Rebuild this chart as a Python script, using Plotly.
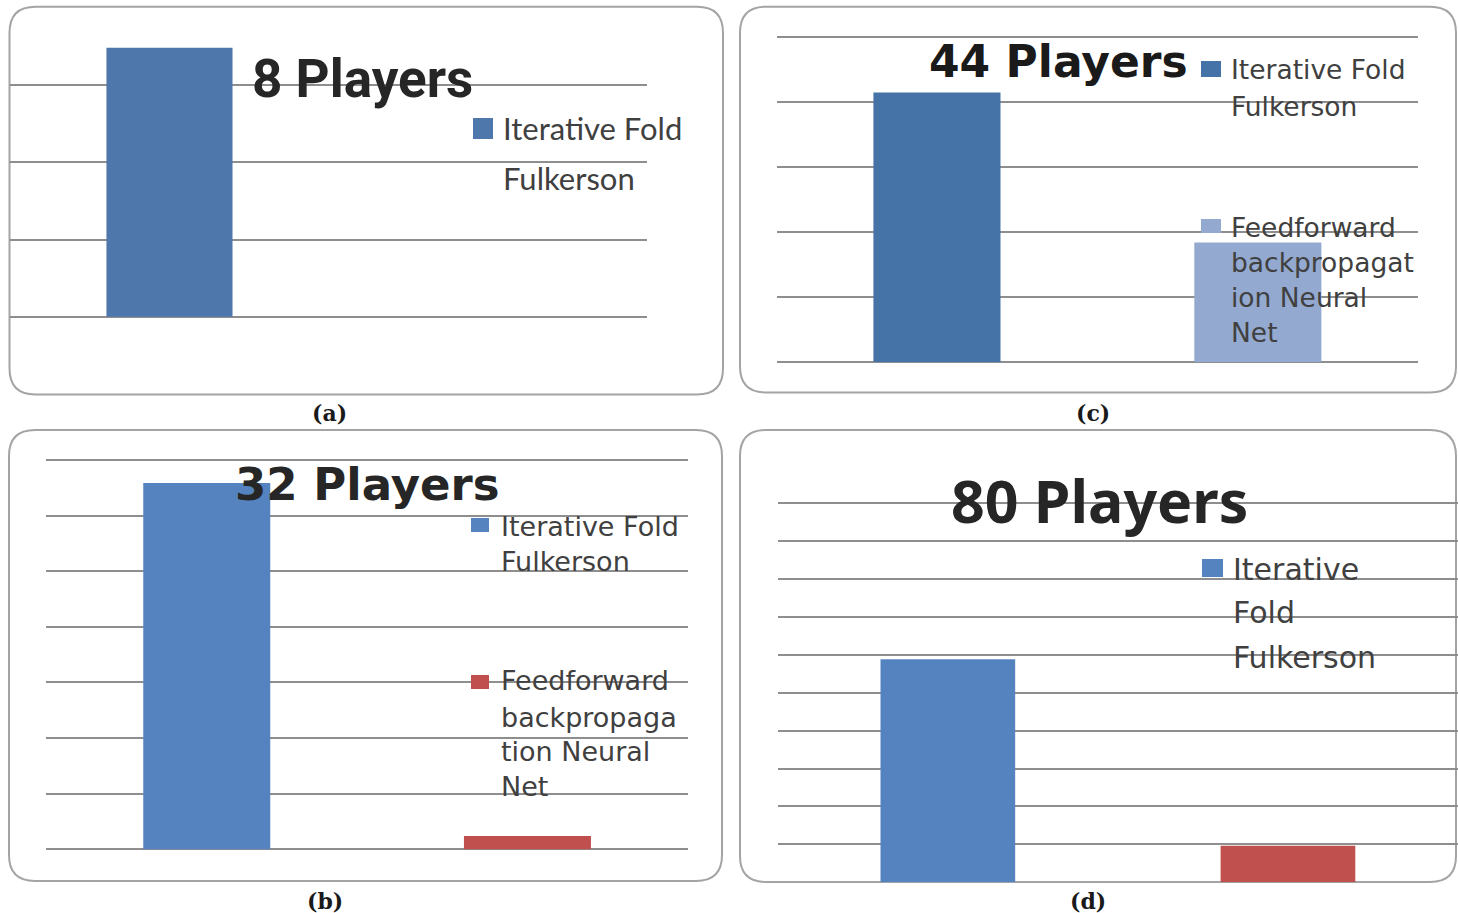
import plotly.graph_objects as go

# ---- data -------------------------------------------------------------
methods = ["Iterative Fold Fulkerson", "Feedforward backpropagation Neural Net"]
players_8 = [3.48, None]
players_32 = [6.59, 0.24]
players_44 = [4.15, 1.84]
players_80 = [5.88, 0.96]

titles = ["8 Players", "32 Players", "44 Players", "80 Players"]
captions = ["(a)", "(b)", "(c)", "(d)"]

W, H = 1458, 913


def fx(px):
    return px / W


def fy(py):
    return 1 - py / H


# per-panel geometry (pixels): plot x-extent, baseline, unit height, y range, ticks
panels = [
    dict(values=players_8, colors=["#4E78AB", "#4E78AB"],
         x0=10.3, x1=647, base=316.8, unit=77.3, ymin=-0.04, ymax=3.6, nt=3,
         box=(9.5, 6.7, 723, 394.5),
         title=dict(text=titles[0], x=362, y=79, size=53, family="Roboto", color="#262626"),
         caption=dict(text=captions[0], x=329, y=413),
         legend=[dict(color="#4E78AB", sw=(473, 118, 493, 139),
                      lines=[("Iterative Fold", 501, 128), ("Fulkerson", 501, 178)])],
         lfont=dict(family="Lato", size=31)),
    dict(values=players_32, colors=["#5483BF", "#C0504D"],
         x0=46.4, x1=687.8, base=849.3, unit=55.6, ymin=-0.04, ymax=7.04, nt=7,
         box=(9, 430, 722, 881),
         title=dict(text=titles[1], x=367, y=484, size=45, family="DejaVu Sans", color="#262626"),
         caption=dict(text=captions[1], x=325, y=901),
         legend=[dict(color="#5483BF", sw=(471, 518, 489, 532),
                      lines=[("Iterative Fold", 499, 526), ("Fulkerson", 499, 561)]),
                 dict(color="#C0504D", sw=(471, 675, 489, 689),
                      lines=[("Feedforward", 499, 680), ("backpropaga", 499, 717),
                             ("tion Neural", 499, 751), ("Net", 499, 786)])],
         lfont=dict(family="DejaVu Sans", size=27)),
    dict(values=players_44, colors=["#4572A7", "#93A9CF"],
         x0=776.5, x1=1418.3, base=362, unit=64.94, ymin=-0.04, ymax=5.04, nt=5,
         box=(740, 6.7, 1456, 392.5),
         title=dict(text=titles[2], x=1058, y=62, size=44, family="DejaVu Sans", color="#1a1a1a"),
         caption=dict(text=captions[2], x=1093, y=413),
         legend=[dict(color="#4572A7", sw=(1201, 61, 1221, 77),
                      lines=[("Iterative Fold", 1229, 69), ("Fulkerson", 1229, 106)]),
                 dict(color="#93A9CF", sw=(1201, 219, 1221, 233),
                      lines=[("Feedforward", 1229, 227), ("backpropagat", 1229, 262),
                             ("ion Neural", 1229, 297), ("Net", 1229, 333)])],
         lfont=dict(family="DejaVu Sans", size=26.5)),
    dict(values=players_80, colors=["#5483BF", "#C0504D"],
         x0=777.8, x1=1458, base=882.2, unit=37.9, ymin=0, ymax=10.04, nt=10,
         box=(740, 430, 1456, 882),
         title=dict(text=titles[3], x=1099, y=500, size=59, family="Noto Sans", color="#262626"),
         caption=dict(text=captions[3], x=1088, y=901),
         legend=[dict(color="#5483BF", sw=(1202, 559, 1223, 577),
                      lines=[("Iterative", 1231, 569), ("Fold", 1231, 612), ("Fulkerson", 1231, 657)])],
         lfont=dict(family="DejaVu Sans", size=30)),
]

GRID = "#8e8e8e"
BORDER = "#a4a4a4"


def rounded_box(x0, y0, x1, y1, r=26):
    X0, X1 = fx(x0), fx(x1)
    Y0, Y1 = fy(y0), fy(y1)
    rx, ry = r / W, r / H
    return (f"M {X0 + rx} {Y0} L {X1 - rx} {Y0} Q {X1} {Y0} {X1} {Y0 - ry} "
            f"L {X1} {Y1 + ry} Q {X1} {Y1} {X1 - rx} {Y1} "
            f"L {X0 + rx} {Y1} Q {X0} {Y1} {X0} {Y1 + ry} "
            f"L {X0} {Y0 - ry} Q {X0} {Y0} {X0 + rx} {Y0} Z")


fig = go.Figure()
shapes = []
annotations = []
layout_axes = {}

for i, p in enumerate(panels, start=1):
    xa = "x" if i == 1 else f"x{i}"
    ya = "y" if i == 1 else f"y{i}"
    fig.add_trace(go.Bar(
        x=methods, y=p["values"], width=0.396,
        marker=dict(color=p["colors"], line=dict(width=0)),
        xaxis=xa, yaxis=ya, showlegend=False, hoverinfo="x+y",
    ))
    top_px = p["base"] - p["ymax"] * p["unit"]
    bot_px = p["base"] - p["ymin"] * p["unit"]
    layout_axes[("xaxis" if i == 1 else f"xaxis{i}")] = dict(
        domain=[fx(p["x0"]), fx(p["x1"])], range=[-0.5, 1.5], anchor=ya,
        showgrid=False, zeroline=False, showline=False, showticklabels=False,
        ticks="", type="category", fixedrange=True)
    layout_axes[("yaxis" if i == 1 else f"yaxis{i}")] = dict(
        domain=[fy(bot_px), fy(top_px)], range=[p["ymin"], p["ymax"]], anchor=xa,
        tickvals=list(range(0, p["nt"] + 1)), showgrid=True, gridcolor=GRID, gridwidth=1.6,
        zeroline=False, showline=False, showticklabels=False, ticks="", fixedrange=True)

    bx0, by0, bx1, by1 = p["box"]
    shapes.append(dict(type="path", xref="paper", yref="paper",
                       path=rounded_box(bx0, by0, bx1, by1),
                       line=dict(color=BORDER, width=2), fillcolor="rgba(0,0,0,0)",
                       layer="below"))

    t = p["title"]
    annotations.append(dict(text=f"<b>{t['text']}</b>", x=fx(t["x"]), y=fy(t["y"]),
                            xref="paper", yref="paper", xanchor="center", yanchor="middle",
                            showarrow=False,
                            font=dict(family=t["family"], size=t["size"], color=t["color"])))

    c = p["caption"]
    annotations.append(dict(text=f"<b>{c['text']}</b>", x=fx(c["x"]), y=fy(c["y"]),
                            xref="paper", yref="paper", xanchor="center", yanchor="middle",
                            showarrow=False,
                            font=dict(family="DejaVu Serif, Liberation Serif, serif",
                                      size=22, color="#1a1a1a")))

    for entry in p["legend"]:
        sx0, sy0, sx1, sy1 = entry["sw"]
        shapes.append(dict(type="rect", xref="paper", yref="paper",
                           x0=fx(sx0), x1=fx(sx1), y0=fy(sy1), y1=fy(sy0),
                           fillcolor=entry["color"], line=dict(width=0), layer="above"))
        for text, lx, ly in entry["lines"]:
            annotations.append(dict(text=text, x=fx(lx), y=fy(ly), xref="paper", yref="paper",
                                    xanchor="left", yanchor="middle", showarrow=False,
                                    font=dict(family=p["lfont"]["family"], size=p["lfont"]["size"],
                                              color="#404040")))

fig.update_layout(
    width=W, height=H, margin=dict(l=0, r=0, t=0, b=0),
    paper_bgcolor="white", plot_bgcolor="rgba(0,0,0,0)",
    barmode="overlay", showlegend=False,
    shapes=shapes, annotations=annotations,
    **layout_axes,
)

fig.write_html("out.html", config={"displayModeBar": False})
